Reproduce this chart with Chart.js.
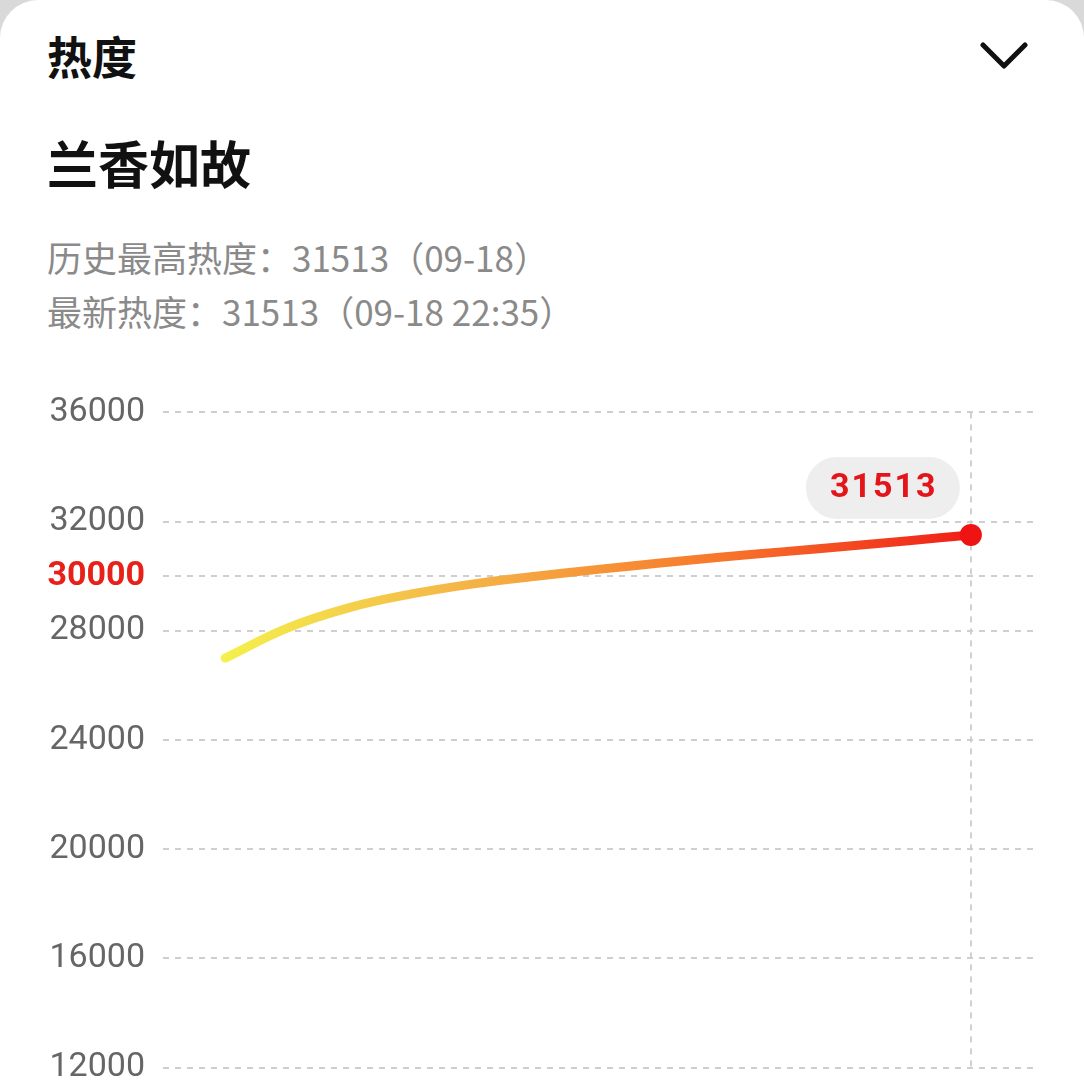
<!DOCTYPE html>
<html>
<head>
<meta charset="utf-8">
<script src="https://cdn.jsdelivr.net/npm/chart.js@4"></script>
<style>
  html, body { margin: 0; padding: 0; background: #d9d9d9; overflow: hidden; }
  .card {
    position: relative; width: 1084px; height: 1080px; background: #fff;
    border-top-left-radius: 38px; border-top-right-radius: 38px;
    font-family: "Noto Sans CJK SC", "Noto Sans", sans-serif;
  }
  .head { position: absolute; left: 47px; top: 26px; font-size: 45px; font-weight: 700; color: #111; line-height: 60px; }
  .title { position: absolute; left: 47px; top: 127px; font-size: 51px; font-weight: 700; color: #111; line-height: 70px; }
  .info { position: absolute; left: 47px; color: #8a8a8a; font-size: 35px; line-height: 50px; }
  .chev { position: absolute; left: 976px; top: 36px; }
  .chart-box { position: absolute; left: 0; top: 374px; width: 1084px; height: 732px; }
</style>
</head>
<body>
<div class="card">
  <div class="head">热度</div>
  <svg class="chev" width="56" height="40" viewBox="0 0 56 40">
    <polyline points="7,9 28,30 49,9" fill="none" stroke="#111" stroke-width="5" stroke-linecap="round" stroke-linejoin="round"/>
  </svg>
  <div class="title">兰香如故</div>
  <div class="info" style="top:232px">历史最高热度：31513（09-18）</div>
  <div class="info" style="top:286px">最新热度：31513（09-18 22:35）</div>
  <div class="chart-box"><canvas id="heatChart"></canvas></div>
</div>
<script>
// 时间点（横轴），首尾留空
const timeLabels = ['19:20', '19:35', '19:50', '20:05', '20:20', '20:35', '20:50', '21:05',
  '21:20', '21:35', '21:50', '22:05', '22:20', '22:35', '22:50'];
// 热度值
const heatValues = [null, 27000, 28100, 28850, 29350, 29720, 30000, 30250,
  30480, 30700, 30900, 31100, 31300, 31513, null];
// 纵轴刻度
const yTicks = [12000, 16000, 20000, 24000, 28000, 30000, 32000, 36000];
const highlightTick = 30000;

const lastIndex = heatValues.reduce((acc, v, i) => (v !== null ? i : acc), 0);
const firstIndex = heatValues.findIndex(v => v !== null);

// 最新值的气泡标签
const bubblePlugin = {
  id: 'bubble',
  afterDatasetsDraw(chart) {
    const pt = chart.getDatasetMeta(0).data[lastIndex];
    if (!pt) return;
    const ctx = chart.ctx;
    const w = 154, h = 62;
    const cx = pt.x - 88, cy = pt.y - 47;
    ctx.save();
    ctx.fillStyle = '#eeeeee';
    ctx.beginPath();
    ctx.roundRect(cx - w / 2, cy - h / 2, w, h, 31);
    ctx.fill();
    ctx.fillStyle = '#e4141b';
    ctx.font = 'bold 34px Roboto, "Noto Sans", sans-serif';
    ctx.letterSpacing = '2px';
    ctx.textAlign = 'center';
    ctx.textBaseline = 'middle';
    ctx.fillText(String(heatValues[lastIndex]), cx + 1, cy + 1);
    ctx.restore();
  }
};

new Chart(document.getElementById('heatChart'), {
  type: 'line',
  data: {
    labels: timeLabels,
    datasets: [{
      data: heatValues,
      borderWidth: 9,
      borderCapStyle: 'round',
      tension: 0.4,
      borderColor: (context) => {
        const { chart } = context;
        const area = chart.chartArea;
        if (!area) return '#f5a03a';
        const xs = chart.scales.x;
        const g = chart.ctx.createLinearGradient(xs.getPixelForValue(firstIndex), 0, xs.getPixelForValue(lastIndex), 0);
        g.addColorStop(0, '#f4f04c');
        g.addColorStop(0.3, '#f4b848');
        g.addColorStop(0.65, '#f77a2c');
        g.addColorStop(1, '#f01d17');
        return g;
      },
      pointRadius: (c) => (c.dataIndex === lastIndex ? 11 : 0),
      pointBackgroundColor: '#ee1414',
      pointBorderWidth: 0,
      pointHoverRadius: 0,
    }],
  },
  options: {
    responsive: true,
    maintainAspectRatio: false,
    animation: false,
    layout: { padding: { top: 24, right: 51, bottom: 30, left: 0 } },
    plugins: { legend: { display: false }, tooltip: { enabled: false } },
    scales: {
      x: {
        offset: false,
        ticks: { display: false },
        grid: {
          drawTicks: false,
          lineWidth: 2,
          color: (c) => (c.index === lastIndex ? '#d0d0d0' : 'rgba(0,0,0,0)'),
        },
        border: { display: false, dash: [6, 6] },
      },
      y: {
        min: 12000,
        max: 36000,
        afterBuildTicks: (axis) => { axis.ticks = yTicks.map(v => ({ value: v })); },
        afterFit: (axis) => { axis.width = 163; },
        ticks: {
          padding: 18,
          callback: (v) => String(v),
          color: (c) => (c.tick && c.tick.value === highlightTick ? '#e8201a' : '#666666'),
          font: (c) => (c.tick && c.tick.value === highlightTick
            ? { family: 'Roboto', size: 34, weight: 'bold' }
            : { family: 'Roboto', size: 34 }),
        },
        border: { display: false, dash: [6, 6] },
        grid: { drawTicks: false, color: '#cfcfcf', lineWidth: 2 },
      },
    },
  },
  plugins: [bubblePlugin],
});
</script>
</body>
</html>
